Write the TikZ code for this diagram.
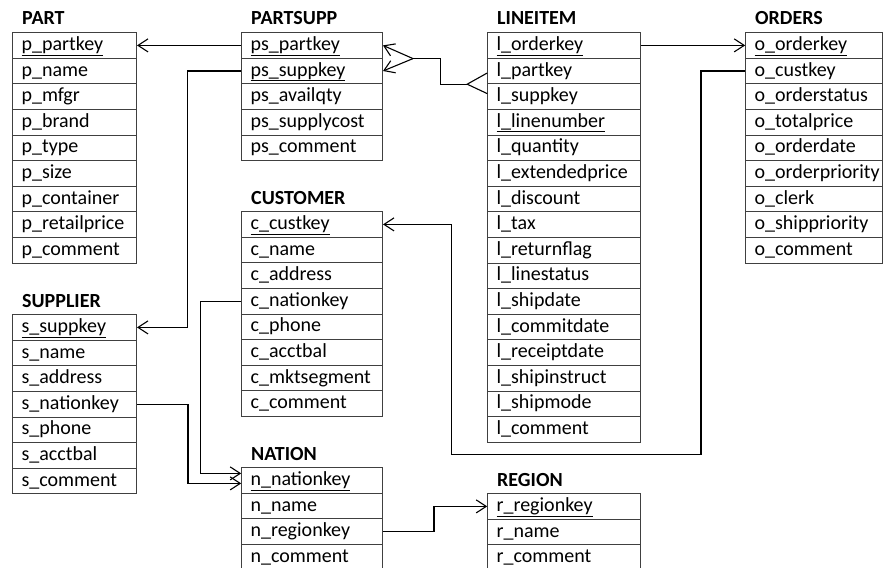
\documentclass[tikz,border=0pt]{standalone}
\usepackage{fontspec}
\setmainfont{Carlito}
\usetikzlibrary{matrix,arrows.meta}

\begin{document}
\begin{tikzpicture}[x=1pt, y=-1pt,
    tbl/.style={matrix of nodes, inner sep=0pt, row sep=-.8pt, anchor=north west,
      nodes={draw=black!75, line width=.8pt, minimum height=25.6pt,
        text height=15pt, text depth=5pt, inner xsep=9pt, text width=#1,
        align=left, font=\fontsize{20}{24}\selectfont}},
    ttl/.style={anchor=base west, inner sep=0pt, font=\fontsize{20}{24}\selectfont\bfseries},
    fk/.style={line width=1.1pt, -{Straight Barb[length=10pt, width=13pt]}}]
    \useasboundingbox (0,0) rectangle (885,567);

    % tables
    \matrix (part) [tbl=106pt] at (12,32) {
      \underline{p\_partkey} \\ p\_name \\ p\_mfgr \\ p\_brand \\ p\_type \\
      p\_size \\ p\_container \\ p\_retailprice \\ p\_comment \\
    };
    \matrix (ps) [tbl=123pt] at (241,32) {
      \underline{ps\_partkey} \\ \underline{ps\_suppkey} \\ ps\_availqty \\
      ps\_supplycost \\ ps\_comment \\
    };
    \matrix (li) [tbl=135pt] at (487,32) {
      \underline{l\_orderkey} \\ l\_partkey \\ l\_suppkey \\ \underline{l\_linenumber} \\
      l\_quantity \\ l\_extendedprice \\ l\_discount \\ l\_tax \\ l\_returnflag \\
      l\_linestatus \\ l\_shipdate \\ l\_commitdate \\ l\_receiptdate \\
      l\_shipinstruct \\ l\_shipmode \\ l\_comment \\
    };
    \matrix (ord) [tbl=119pt] at (745,32) {
      \underline{o\_orderkey} \\ o\_custkey \\ o\_orderstatus \\ o\_totalprice \\
      o\_orderdate \\ o\_orderpriority \\ o\_clerk \\ o\_shippriority \\ o\_comment \\
    };
    \matrix (cust) [tbl=123pt] at (241,211) {
      \underline{c\_custkey} \\ c\_name \\ c\_address \\ c\_nationkey \\ c\_phone \\
      c\_acctbal \\ c\_mktsegment \\ c\_comment \\
    };
    \matrix (sup) [tbl=106pt] at (12,314) {
      \underline{s\_suppkey} \\ s\_name \\ s\_address \\ s\_nationkey \\ s\_phone \\
      s\_acctbal \\ s\_comment \\
    };
    \matrix (nat) [tbl=123pt] at (241,467) {
      \underline{n\_nationkey} \\ n\_name \\ n\_regionkey \\ n\_comment \\
    };
    \matrix (reg) [tbl=135pt] at (487,493) {
      \underline{r\_regionkey} \\ r\_name \\ r\_comment \\
    };

    % titles
    \node[ttl] (part-t) at ([shift={(10,-7)}]part.north west) {PART};
    \node[ttl] (ps-t)   at ([shift={(10,-7)}]ps.north west)   {PARTSUPP};
    \node[ttl] (li-t)   at ([shift={(10,-7)}]li.north west)   {LINEITEM};
    \node[ttl] (ord-t)  at ([shift={(10,-7)}]ord.north west)  {ORDERS};
    \node[ttl] (cust-t) at ([shift={(10,-7)}]cust.north west) {CUSTOMER};
    \node[ttl] (sup-t)  at ([shift={(10,-7)}]sup.north west)  {SUPPLIER};
    \node[ttl] (nat-t)  at ([shift={(10,-7)}]nat.north west)  {NATION};
    \node[ttl] (reg-t)  at ([shift={(10,-7)}]reg.north west)  {REGION};

    % foreign keys
    \draw[fk] (ps-1-1.west) -- (part-1-1.east);
    \draw[fk] (ps-2-1.west) -- ++(-54,0) |- (sup-1-1.east);
    \draw[fk] (li-1-1.east) -- (ord-1-1.west);
    \coordinate (crow) at ([xshift=-20pt]li-2-1.south west);
    \coordinate (fork) at ([xshift=30pt]ps-1-1.south east);
    \draw[line width=1.1pt] ([yshift=-2pt]li-2-1.west) -- (crow) -- ([yshift=3pt]li-3-1.west);
    \draw[line width=1.1pt] (crow) -- ++(-27,0) |- (fork);
    \draw[fk] (fork) -- (ps-1-1.east);
    \draw[fk] (fork) -- (ps-2-1.east);
    \coordinate (oc1) at ([shift={(60,12)}]li-16-1.south east);
    \coordinate (oc2) at ([shift={(-36,12)}]li-16-1.south west);
    \draw[fk] (ord-2-1.west) -| (oc1) -- (oc2) |- (cust-1-1.east);
    \draw[fk] (cust-4-1.west) -- ++(-41,0) |- ([yshift=7pt]nat-1-1.west);
    \draw[fk] (sup-4-1.east) -- ++(51,0) |- ([yshift=-3pt]nat-1-1.west);
    \draw[fk] (nat-3-1.east) -- ++(51,0) |- (reg-1-1.west);
\end{tikzpicture}
\end{document}
